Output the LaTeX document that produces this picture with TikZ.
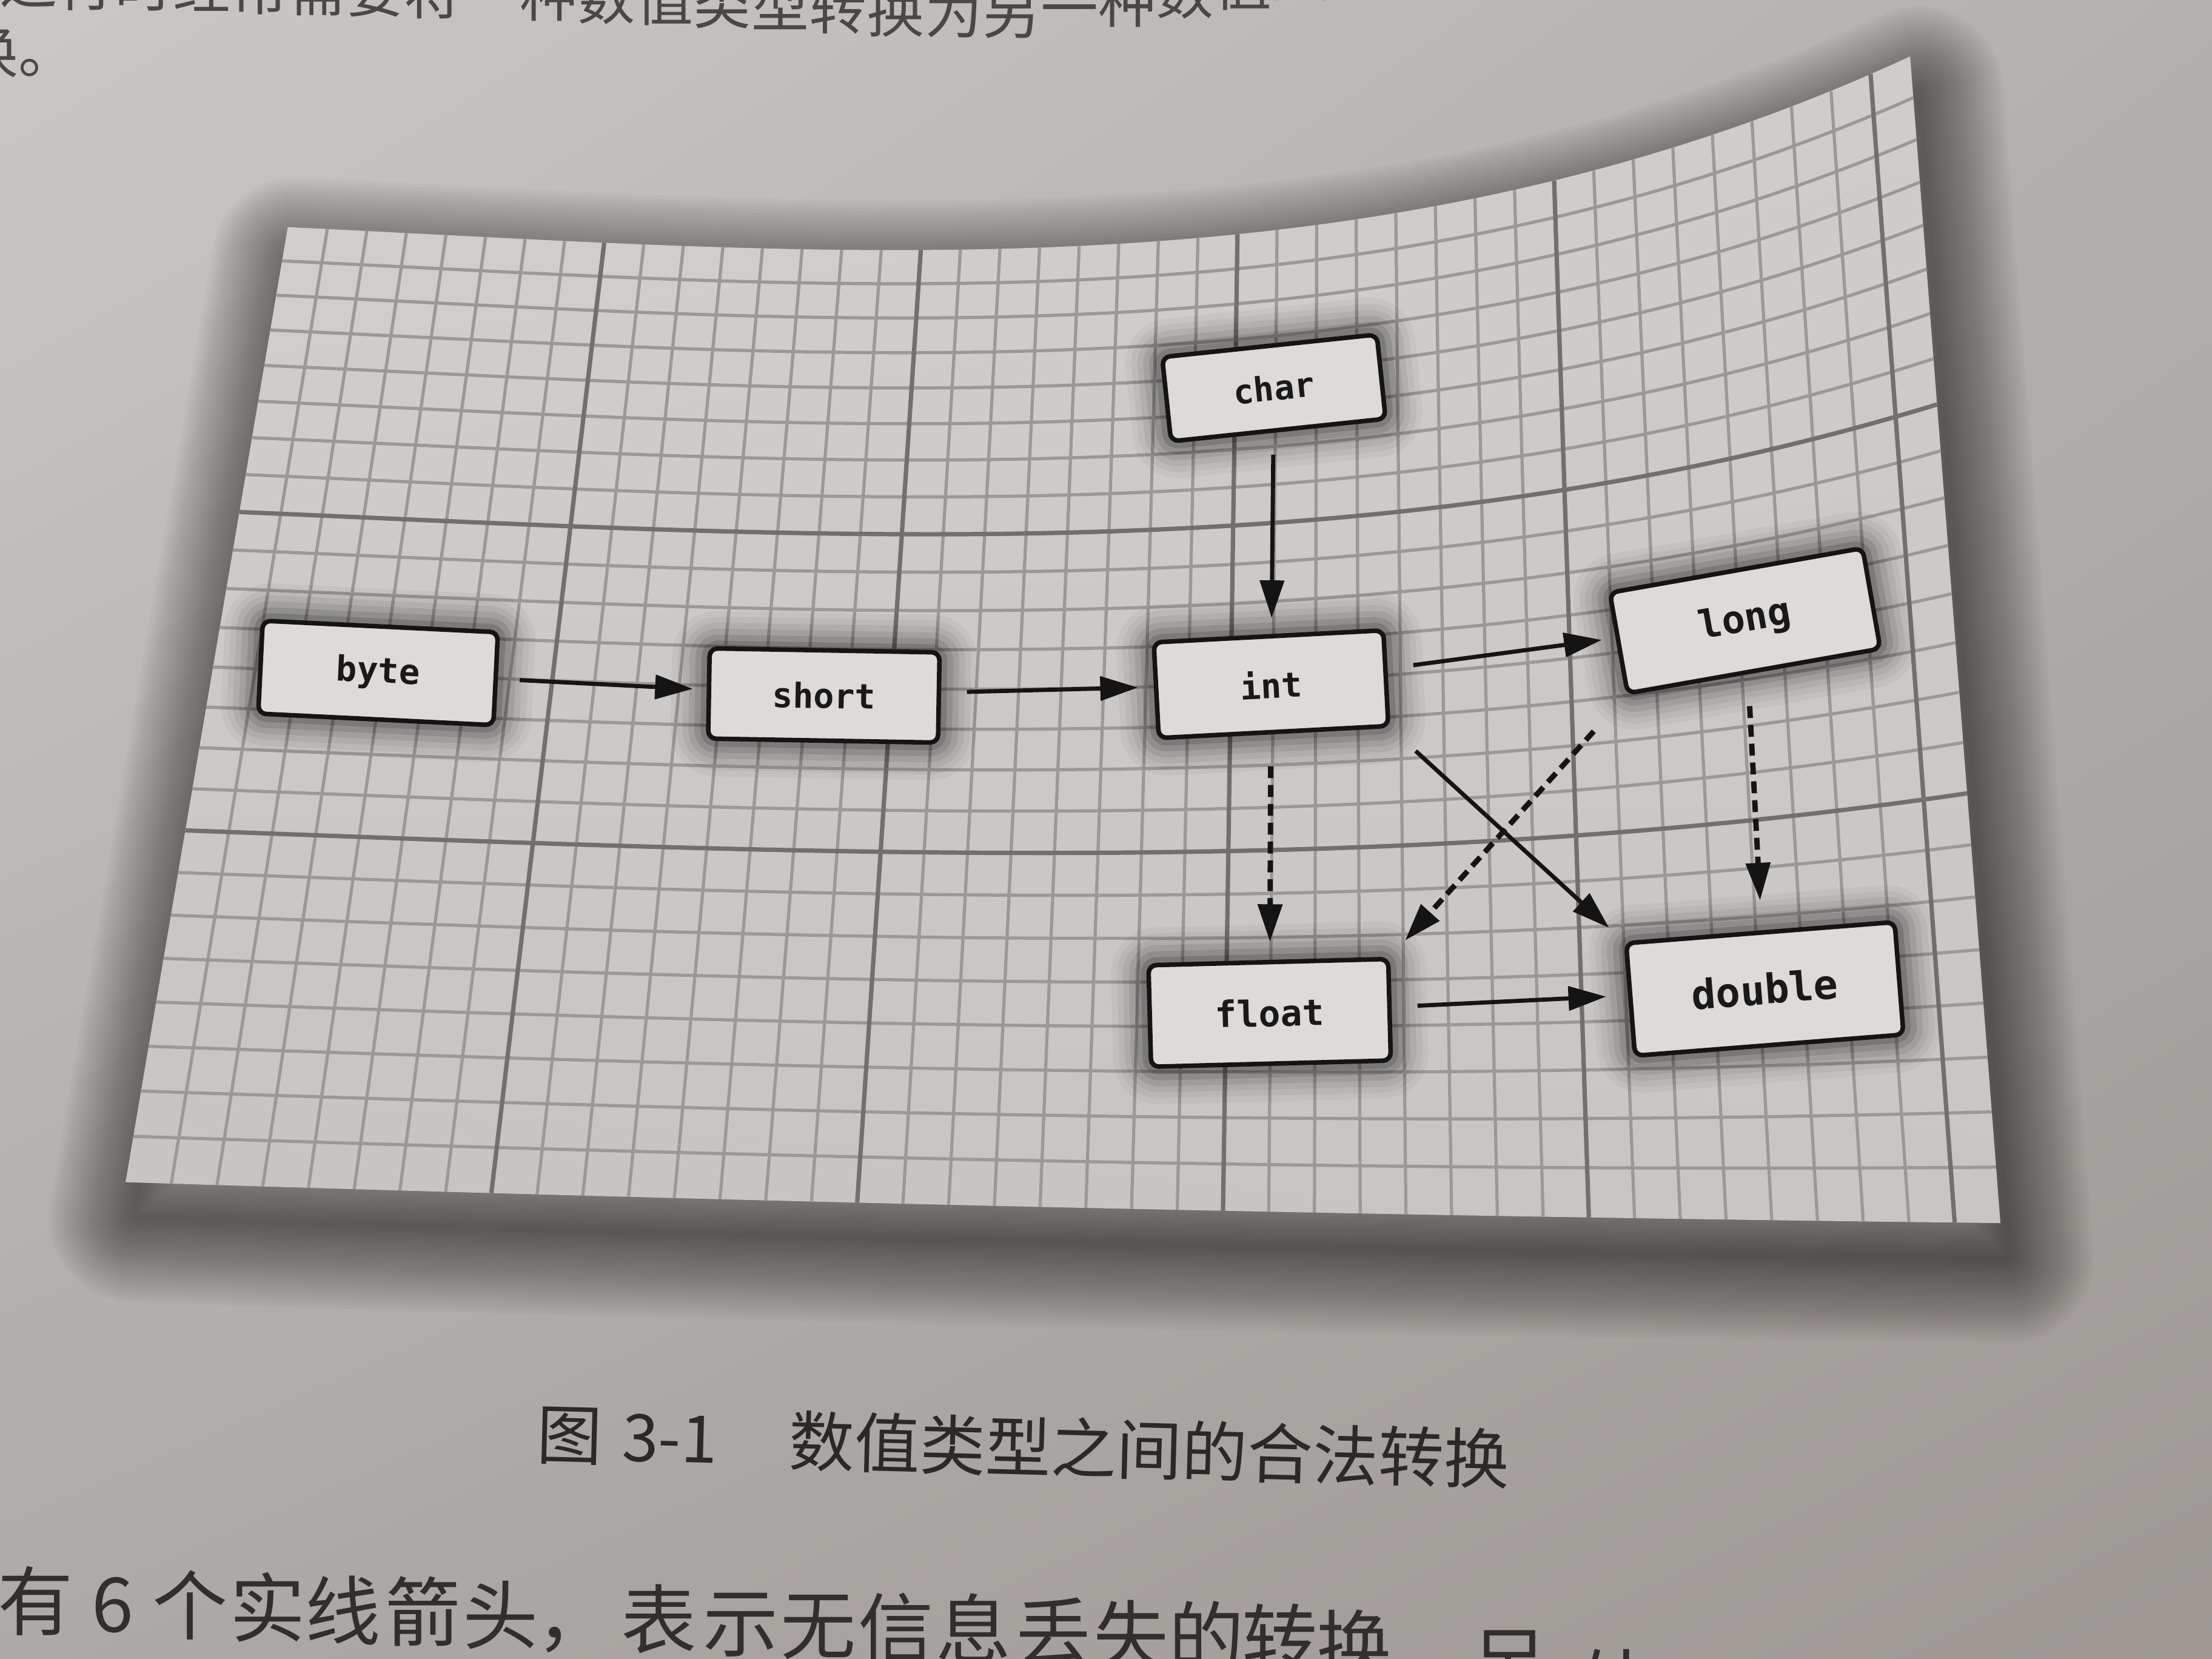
\documentclass[tikz,border=0pt]{standalone}
\usepackage{fontspec}
\newfontfamily\cjk{Noto Sans CJK SC}
\newfontfamily\monob{DejaVu Sans Mono}
\usetikzlibrary{arrows.meta,calc,shadings}

% page and panel tones
\definecolor{pageUL}{HTML}{CAC8C6}
\definecolor{pageUR}{HTML}{B3B1AF}
\definecolor{pageLL}{HTML}{ADA9A6}
\definecolor{pageLR}{HTML}{9D9894}
\definecolor{panUL}{HTML}{D3D0CD}
\definecolor{panUR}{HTML}{CFCCC9}
\definecolor{panLL}{HTML}{C7C3C0}
\definecolor{panLR}{HTML}{C9C5C2}
\definecolor{gridminor}{HTML}{9C9895}
\definecolor{gridmajor}{HTML}{736F6C}
\definecolor{boxfill}{HTML}{DDDAD7}
\definecolor{topink}{HTML}{4A4745}
\definecolor{botink}{HTML}{312E2D}
\definecolor{capink}{HTML}{2B2826}

\begin{document}
\begin{tikzpicture}[x=0.025cm,y=-0.025cm,
  minorline/.style={draw=gridminor, line width=1.6pt},
  majorline/.style={draw=gridmajor, line width=2.2pt},
  typebox/.style={draw=black!92, line width=2.3pt, fill=boxfill,
    rounded corners=4pt, inner sep=0pt, text=black!90,
    preaction={draw=black, fill=none, line join=round, line width=38pt, opacity=0.035},
    preaction={draw=black, fill=none, line join=round, line width=32pt, opacity=0.045},
    preaction={draw=black, fill=none, line join=round, line width=26pt, opacity=0.06},
    preaction={draw=black, fill=none, line join=round, line width=20pt, opacity=0.08},
    preaction={draw=black, fill=none, line join=round, line width=14pt, opacity=0.1},
    preaction={draw=black, fill=none, line join=round, line width=8pt, opacity=0.14}},
  arr/.style={draw=black!92, line width=2.1pt, -{Triangle[length=19pt,width=12pt]}},
  darr/.style={arr, line width=2.7pt, dash pattern=on 6pt off 3.5pt},
  topch/.style={anchor=base, inner sep=0pt, font=\cjk\fontsize{29}{29}\selectfont, text=topink},
  botch/.style={anchor=base, inner sep=0pt, font=\cjk\fontsize{38}{38}\selectfont, text=botink},
  caption/.style={anchor=base west, inner sep=0pt, font=\cjk\fontsize{33}{33}\selectfont, text=capink}]

\useasboundingbox (0,0) rectangle (1568,1176);
\clip (0,0) rectangle (1568,1176);

% the page
\shade[upper left=pageUL, upper right=pageUR, lower left=pageLL, lower right=pageLR]
  (0,0) rectangle (1568,1176);

% running text above the figure
\foreach \c/\x/\b [count=\i] in {运/20/5, 行/61/7, 时/102/8, 经/143/9, 常/184/10,
  需/225/11, 要/266/12, 将/307/13, 一/348/14, 种/389/15, 数/430/17, 值/471/18,
  类/512/20, 型/553/22, 转/594/24, 换/635/26, 为/676/27, 另/717/27, 一/758/24,
  种/799/19, 数/840/13, 值/881/7, 类/922/0, 型/963/-8}
  \node[topch] (t\i) at (\x,\b-3) {\c};
\node[topch, anchor=base west] (tend) at (-28,52) {换。};

% outline of the curved grid sheet
\coordinate (T0) at (204,161);
\coordinate (T1) at (587,179);
\coordinate (T2) at (971,217);
\coordinate (T3) at (1354,40);
\coordinate (B0) at (89,838);
\coordinate (B1) at (532,852);
\coordinate (B2) at (975,862);
\coordinate (B3) at (1418,867);

% soft shadow of the sheet, built from many faint strokes
\begin{scope}[transform canvas={shift={(6,25)}}]
  \foreach \w in {120,115,...,5} {
    \pgfmathsetmacro\lw{\w*0.711}
    \draw[black, opacity=0.024, line width=\lw pt, line join=round]
      (T0) .. controls (T1) and (T2) .. (T3) -- (B3)
      .. controls (B2) and (B1) .. (B0) -- cycle;
  }
\end{scope}

% the sheet
\shade[upper left=panUL, upper right=panUR, lower left=panLL, lower right=panLR]
  (T0) .. controls (T1) and (T2) .. (T3) -- (B3)
  .. controls (B2) and (B1) .. (B0) -- cycle;

% grid columns
\foreach \i in {1,...,40} {
  \pgfmathsetmacro\u{\i/41}
  \path (T0) .. controls (T1) and (T2) .. (T3) coordinate[pos=\u] (gt);
  \path (B0) .. controls (B1) and (B2) .. (B3) coordinate[pos=\u] (gb);
  \draw[minorline] (gt) -- (gb);
}
% grid rows
\foreach \k in {1,...,23} {
  \pgfmathsetmacro\v{0.8425*\k/24+0.1575*(\k/24)^2}
  \draw[minorline] ($(T0)!\v!(B0)$) .. controls ($(T1)!\v!(B1)$)
    and ($(T2)!\v!(B2)$) .. ($(T3)!\v!(B3)$);
}
% heavier lines every eighth cell
\foreach \i in {8,16,24,32,40} {
  \pgfmathsetmacro\u{\i/41}
  \path (T0) .. controls (T1) and (T2) .. (T3) coordinate[pos=\u] (gt);
  \path (B0) .. controls (B1) and (B2) .. (B3) coordinate[pos=\u] (gb);
  \draw[majorline] (gt) -- (gb);
}
\foreach \k in {8,16} {
  \pgfmathsetmacro\v{0.8425*\k/24+0.1575*(\k/24)^2}
  \draw[majorline] ($(T0)!\v!(B0)$) .. controls ($(T1)!\v!(B1)$)
    and ($(T2)!\v!(B2)$) .. ($(T3)!\v!(B3)$);
}

% the numeric types
\node[typebox, minimum width=118.7pt, minimum height=46.9pt, rotate=-2.8,
  font=\monob\bfseries\fontsize{17.5}{17.5}\selectfont] (byte) at (268,477) {byte};
\node[typebox, minimum width=115.9pt, minimum height=45.5pt, rotate=-1,
  font=\monob\bfseries\fontsize{17.3}{17.3}\selectfont] (short) at (584,493) {short};
\node[typebox, minimum width=115.9pt, minimum height=48.3pt, rotate=3,
  font=\monob\bfseries\fontsize{17.3}{17.3}\selectfont] (int) at (901,485) {int};
\node[typebox, minimum width=108.8pt, minimum height=42.7pt, rotate=6,
  font=\monob\bfseries\fontsize{17}{17}\selectfont] (char) at (903,275) {char};
\node[typebox, minimum width=129.4pt, minimum height=51.5pt, rotate=10,
  font=\monob\bfseries\fontsize{19.5}{19.5}\selectfont] (long) at (1237,440) {long};
\node[typebox, minimum width=120.9pt, minimum height=51.2pt, rotate=1.5,
  font=\monob\bfseries\fontsize{18.2}{18.2}\selectfont] (float) at (900,718) {float};
\node[typebox, minimum width=135.8pt, minimum height=56.9pt, rotate=4.5,
  font=\monob\bfseries\fontsize{20.5}{20.5}\selectfont] (double) at (1251,701) {double};

% conversions without loss
\draw[arr, shorten <=11pt, shorten >=7pt] (byte) -- (short);
\draw[arr, shorten <=13pt, shorten >=8pt] (short) -- (int);
\draw[arr, shorten <=11pt, shorten >=8pt] (char) -- (int);
\draw[arr, shorten <=13pt, shorten >=7pt] (int) -- (long);
\draw[arr, shorten <=17pt, shorten >=10pt] (int.south east) -- (double.north west);
\draw[arr, shorten <=13pt, shorten >=11pt] (float) -- (double);
% conversions that may lose precision
\draw[darr, shorten <=16pt, shorten >=9pt] (int) -- (float);
\draw[darr, shorten <=16pt, shorten >=15pt] (long) -- (double);
\draw[darr, shorten <=24pt, shorten >=11pt] (long.south west) -- (float.north east);

% figure caption
\node[caption, rotate=-1.5] (cap) at (380,1034)
  {图\hspace{0.3em}3-1\hspace{1.1em}数值类型之间的合法转换};

% running text below the figure
\foreach \c/\x/\b [count=\i] in {有/25/1155, 6/80/1157, 个/135/1158, 实/190/1160,
  线/243/1162, 箭/300/1163, 头/355/1165, ，/407/1166, 表/467/1168, 示/525/1170,
  无/580/1172, 信/635/1174, 息/690/1175, 丢/747/1177, 失/802/1179, 的/855/1180,
  转/907/1182, 换/960/1186, ，/1012/1190, 另/1070/1198, 外/1145/1214}
  \node[botch] (b\i) at (\x,\b) {\c};

\end{tikzpicture}
\end{document}
